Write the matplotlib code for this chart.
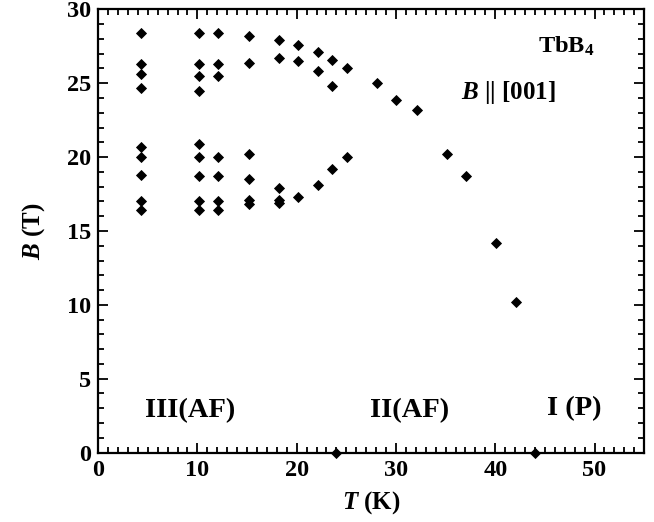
import numpy as np
import matplotlib
matplotlib.use("Agg")
import matplotlib.pyplot as plt
from matplotlib.ticker import MultipleLocator

plt.rcParams['font.family'] = ['Liberation Serif', 'DejaVu Serif']
plt.rcParams['mathtext.fontset'] = 'custom'
plt.rcParams['mathtext.rm'] = 'Liberation Serif:bold'
plt.rcParams['mathtext.it'] = 'Liberation Serif:bold:italic'
plt.rcParams['mathtext.bf'] = 'Liberation Serif:bold'

# phase boundary points, T (K) vs B (T)
T = [4.3, 4.3, 4.3, 4.3, 4.3, 4.3, 4.3, 4.3, 4.3,
     10.2, 10.2, 10.2, 10.2, 10.2, 10.2, 10.2, 10.2, 10.2,
     12.1, 12.1, 12.1, 12.1, 12.1, 12.1, 12.1,
     15.2, 15.2, 15.2, 15.2, 15.2, 15.2,
     18.2, 18.2, 18.2, 18.2, 18.2,
     20.1, 20.1, 20.1,
     22.1, 22.1, 22.1,
     23.6, 23.6, 23.6,
     25.1, 25.1,
     28.1, 30.0, 32.1, 35.1, 37.1, 40.1, 42.1,
     24.0, 44.0]
B = [28.4, 26.3, 25.6, 24.7, 20.7, 20.0, 18.8, 17.0, 16.4,
     28.4, 26.3, 25.5, 24.5, 20.9, 20.0, 18.7, 17.0, 16.4,
     28.4, 26.3, 25.5, 20.0, 18.7, 17.0, 16.4,
     28.2, 26.4, 20.2, 18.5, 17.1, 16.8,
     27.9, 26.7, 17.9, 17.1, 16.9,
     27.6, 26.5, 17.3,
     27.1, 25.8, 18.1,
     26.6, 24.8, 19.2,
     26.0, 20.0,
     25.0, 23.9, 23.2, 20.2, 18.7, 14.2, 10.2,
     0.0, 0.0]

phase_names = ["III(AF)", "II(AF)", "I (P)"]
phase_T = [9.3, 31.4, 48.0]
phase_B = [2.85, 2.85, 3.0]

fig = plt.figure(figsize=(6.54, 5.22), dpi=100, facecolor="white")
ax = fig.add_axes([0.15, 0.133, 0.835, 0.849])

ax.plot(T, B, linestyle="none", marker="D", markersize=5.2, color="black",
        markeredgewidth=0.6, clip_on=False, zorder=5)

ax.set_xlim(0, 55)
ax.set_ylim(0, 30)
ax.xaxis.set_major_locator(MultipleLocator(10))
ax.xaxis.set_minor_locator(MultipleLocator(1))
ax.yaxis.set_major_locator(MultipleLocator(5))
ax.yaxis.set_minor_locator(MultipleLocator(1))
ax.tick_params(which="both", direction="in", top=True, right=True, width=1.3)
ax.tick_params(which="major", length=7.5, labelsize=17.5, pad=5)
ax.tick_params(which="minor", length=4.5)
for lab in ax.get_xticklabels() + ax.get_yticklabels():
    lab.set_fontweight("bold")
for s in ax.spines.values():
    s.set_linewidth(1.6)

ax.set_xlabel("$T$ (K)", fontsize=18, fontweight="bold", labelpad=6)
ax.set_ylabel("$B$ (T)", fontsize=18, fontweight="bold", labelpad=14)

for name, x, y in zip(phase_names, phase_T, phase_B):
    ax.text(x, y, name, fontsize=20.5, fontweight="bold", ha="center", va="center")

ax.text(47.1, 27.5, "TbB$_4$", fontsize=17.5, fontweight="bold", ha="center", va="center")
ax.text(41.3, 24.4, "$B$ || [001]", fontsize=18, fontweight="bold", ha="center", va="center")

fig.savefig("out.png", dpi=100, facecolor="white")
